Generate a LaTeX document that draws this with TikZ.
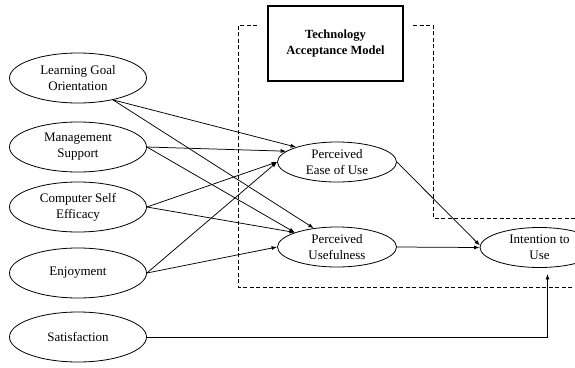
\documentclass[tikz,border=0pt]{standalone}
\usepackage{fontspec}
\setmainfont{Liberation Serif}
\usetikzlibrary{shapes.geometric,arrows.meta}
\begin{document}
\begin{tikzpicture}[x=1pt,y=-1pt,
  construct/.style={draw,ellipse,line width=0.8pt,minimum width=137pt,minimum height=50pt,inner sep=0pt,align=center,font=\fontsize{13}{16}\selectfont},
  tamvar/.style={draw,ellipse,line width=0.8pt,minimum width=119pt,minimum height=40pt,inner sep=0pt,align=center,font=\fontsize{13}{16}\selectfont},
  link/.style={line width=0.75pt,-{Latex[length=5.5pt,width=4pt]}},
  boundary/.style={line width=0.8pt,dash pattern=on 4pt off 2.5pt}]
\useasboundingbox (0,0) rectangle (575,367);
\clip (0,0) rectangle (575,367);
\fill[white] (0,0) rectangle (575,367);

% dashed TAM boundary
\coordinate (b1) at (257,25);
\coordinate (b2) at (238,25);
\coordinate (b3) at (238,287);
\coordinate (b4) at (576,287);
\coordinate (c1) at (413,25);
\coordinate (c2) at (433,25);
\coordinate (c3) at (433,218);
\coordinate (c4) at (576,218);
\draw[boundary] (b1) -- (b2) -- (b3) -- (b4);
\draw[boundary] (c1) -- (c2) -- (c3) -- (c4);

% title box
\node[draw,line width=2pt,minimum width=135pt,minimum height=75pt,align=center,
  font=\fontsize{12.5}{15.5}\selectfont\bfseries] (tam) at (335.5,43.5) {Technology\\Acceptance Model};

% external constructs
\node[construct] (lgo) at (78,78) {Learning Goal\\Orientation};
\node[construct] (ms)  at (78,147) {Management\\Support};
\node[construct] (cse) at (78,207) {Computer Self\\Efficacy};
\node[construct] (enj) at (78,273) {Enjoyment};
\node[construct] (sat) at (78,337) {Satisfaction};

% TAM constructs
\node[tamvar] (peou) at (337,162) {Perceived\\Ease of Use};
\node[tamvar] (pu)   at (337,247) {Perceived\\Usefulness};
\node[tamvar] (itu)  at (539.5,247.5) {Intention to\\Use};

% arrows
\draw[link] (lgo.-32) -- (peou.160);
\draw[link] (lgo.-32) -- (pu.141);
\draw[link] (ms.east) -- (peou.168);
\draw[link] (ms.east) -- (pu.161);
\draw[link] (cse.east) -- (peou.west);
\draw[link] (cse.east) -- (pu.161);
\draw[link] (enj.east) -- (peou.west);
\draw[link] (enj.east) -- (pu.west);
\draw[link] (peou.east) -- (itu.178);
\draw[link] (pu.east) -- (itu.west);
\draw[link,shorten >=6pt] (sat.east) -| ([xshift=8pt]itu.south);
\end{tikzpicture}
\end{document}
